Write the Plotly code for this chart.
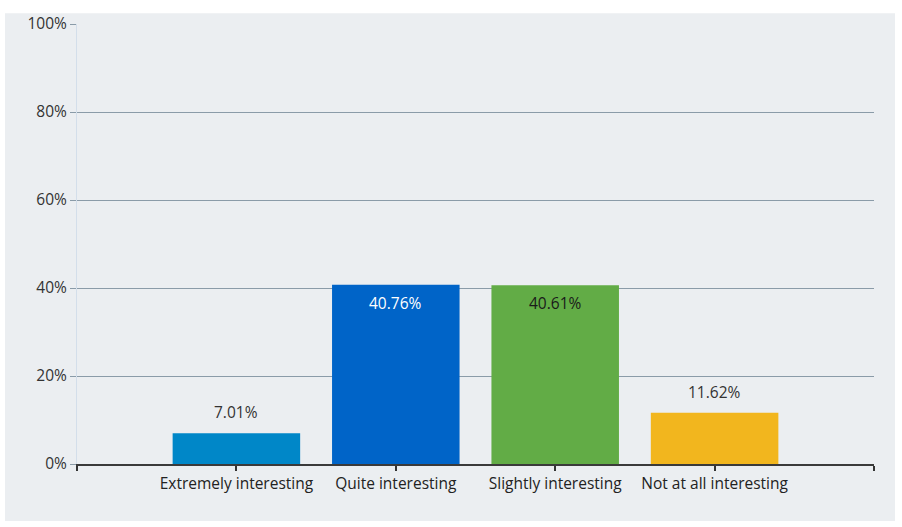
import plotly.graph_objects as go

categories = ["Extremely interesting", "Quite interesting", "Slightly interesting", "Not at all interesting"]
values = [7.01, 40.76, 40.61, 11.62]
bar_colors = ["#0087C8", "#0064C8", "#62AC46", "#F2B61E"]
label_inside = [False, True, True, False]
label_colors = ["#333333", "#FFFFFF", "#1a1a1a", "#333333"]
y_ticks = [0, 20, 40, 60, 80, 100]
y_tick_labels = ["0%", "20%", "40%", "60%", "80%", "100%"]

xpos = list(range(len(categories)))
FONT = "Open Sans, Arial, sans-serif"
FS = 15.5

fig = go.Figure()
fig.add_trace(go.Bar(
    x=xpos, y=values, marker=dict(color=bar_colors, line=dict(width=0)),
    width=0.8, hoverinfo="skip", showlegend=False,
))

annotations = []
for x, v, inside, c in zip(xpos, values, label_inside, label_colors):
    annotations.append(dict(
        x=x, y=v, xref="x", yref="y", text=f"{v:.2f}%", showarrow=False,
        yanchor="top" if inside else "bottom",
        yshift=-5 if inside else 8,
        font=dict(family=FONT, size=FS, color=c),
    ))

T, B, L, R = 17, 63, 77, 28
H, W = 527, 902
ph = H - T - B
pw = W - L - R

fig.update_layout(
    width=W, height=H,
    margin=dict(l=L, r=R, t=T, b=B),
    paper_bgcolor="white",
    plot_bgcolor="rgba(0,0,0,0)",
    font=dict(family=FONT, size=FS, color="#333333"),
    annotations=annotations,
    shapes=[dict(
        type="rect", xref="paper", yref="paper",
        x0=(5 - L) / pw, x1=(895 - L) / pw,
        y0=(H - 522 - B) / ph, y1=(H - 6 - B) / ph,
        fillcolor="#EBEEF1", line=dict(width=0), layer="below",
    )],
    xaxis=dict(
        range=[-1, 4],
        tickvals=[-1] + xpos + [4],
        ticktext=[""] + categories + [""],
        ticks="outside", ticklen=5, tickcolor="#333333", tickwidth=1.5,
        showgrid=False, zeroline=False,
        showline=True, linecolor="#3a3a3a", linewidth=1.5,
        tickfont=dict(family=FONT, size=FS, color="#222222"),
        fixedrange=True,
    ),
    yaxis=dict(
        range=[0, 100],
        tickvals=y_ticks, ticktext=y_tick_labels,
        ticks="outside", ticklen=6, tickcolor="#8A9BA8", tickwidth=1,
        showgrid=True, gridcolor="#8A9BA8", gridwidth=1,
        zeroline=False,
        showline=True, linecolor="#D3DEEA", linewidth=1,
        tickfont=dict(family=FONT, size=FS, color="#333333"),
        fixedrange=True,
    ),
)

fig.write_html(
    "out.html", config={"displayModeBar": False},
    post_script=(
        "document.body.style.margin='0';"
        "document.body.style.padding='0';"
        "document.body.style.overflow='hidden';"
        "document.documentElement.style.overflow='hidden';"
        "document.body.style.height='527px';"
    ),
)
